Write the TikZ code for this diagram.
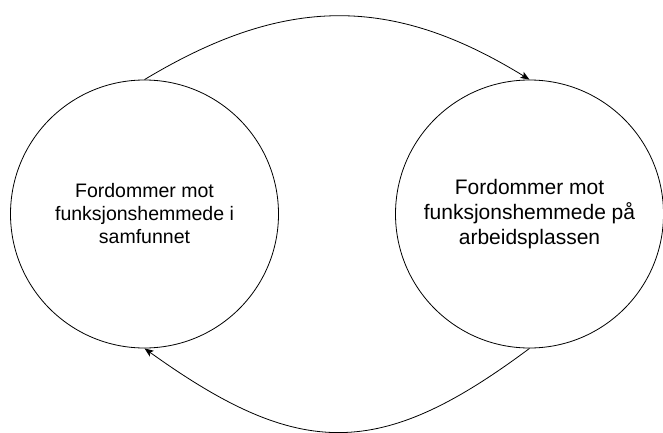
\documentclass[tikz,border=0pt]{standalone}
\usepackage{fontspec}
\setmainfont{Liberation Sans}
\usetikzlibrary{arrows.meta}

\tikzset{
  sirkel/.style={draw, circle, line width=0.8pt, minimum size=268pt, inner sep=0pt, align=center},
  pil/.style={line width=0.8pt, -{Stealth[length=9pt,width=7pt,inset=2pt]}}
}

\begin{document}
\begin{tikzpicture}[x=1pt,y=-1pt]
   \useasboundingbox (0,0) rectangle (663,433);
   \node[sirkel, font=\fontsize{19.5}{23}\selectfont] (samfunn) at (144.5,214)
      {Fordommer mot\\funksjonshemmede i\\samfunnet};
   \node[sirkel, font=\fontsize{21}{25}\selectfont] (arbeid) at (529.5,214)
      {Fordommer mot\\funksjonshemmede på\\arbeidsplassen};
   \draw[pil] (samfunn.north) .. controls (285,-5) and (392,-5) .. (arbeid.north);
   \draw[pil] (arbeid.south) .. controls (380,460) and (300,460) .. (samfunn.south);
\end{tikzpicture}
\end{document}
